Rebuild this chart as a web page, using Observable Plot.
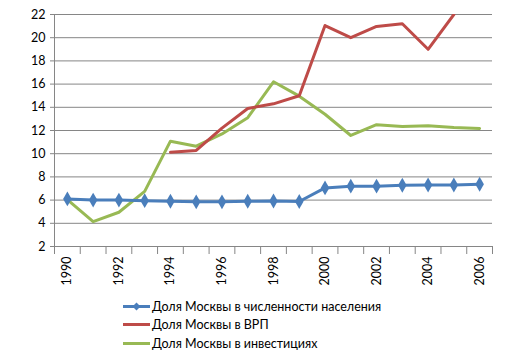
<!DOCTYPE html>
<html>
<head>
<meta charset="utf-8">
<script src="https://cdn.jsdelivr.net/npm/d3@7"></script>
<script src="https://cdn.jsdelivr.net/npm/@observablehq/plot@0.6"></script>
<style>
  body { margin: 0; background: #fff; font-family: Lato, "Open Sans", sans-serif; }
  #legend { margin-left: 123px; margin-top: 2px; font-size: 12.5px; color: #000; }
  .row { display: flex; align-items: center; height: 18.5px; }
  .row svg { margin-right: 1px; }
</style>
</head>
<body>
<div id="chart"></div>
<div id="legend"></div>
<script>
const years = [1990,1991,1992,1993,1994,1995,1996,1997,1998,1999,2000,2001,2002,2003,2004,2005,2006];
const population = [6.1,6.0,6.0,5.95,5.9,5.85,5.85,5.9,5.92,5.88,7.05,7.2,7.2,7.28,7.3,7.3,7.37];
const grp = [null,null,null,null,10.13,10.28,12.2,13.9,14.3,15.0,21.05,20.0,20.97,21.2,19.0,22.0,null];
const investment = [6.05,4.15,4.95,6.75,11.08,10.65,11.7,13.1,16.2,14.96,13.4,11.57,12.5,12.34,12.4,12.26,12.17];
const yTicks = [2,4,6,8,10,12,14,16,18,20,22];
const seriesNames = ["Доля Москвы в численности населения","Доля Москвы в ВРП","Доля Москвы в инвестициях"];
const colors = ["#4A7EBB","#BE4B48","#98B954"];

const popData = years.map((y,i)=>({year:y, v:population[i]}));
const grpData = years.map((y,i)=>({year:y, v:grp[i]}));
const invData = years.map((y,i)=>({year:y, v:investment[i]}));
const boundaries = years.map(y=>y-0.5).concat([years[years.length-1]+0.5]);
const labelYears = years.filter(y=>y%2===0);

const chart = Plot.plot({
  width: 513,
  height: 295,
  marginLeft: 54,
  marginRight: 21,
  marginTop: 14,
  marginBottom: 49,
  style: {fontFamily: "Lato, 'Open Sans', sans-serif", fontSize: "12.5px", color: "#000"},
  x: {domain: [years[0]-0.5, years[years.length-1]+0.5]},
  y: {domain: [2,22]},
  marks: [
    Plot.gridY(yTicks, {stroke: "#868686", strokeOpacity: 1}),
    Plot.ruleX([years[0]-0.5], {stroke: "#868686"}),
    Plot.axisY({ticks: yTicks, tickSize: 4, tickPadding: 5, stroke: "#868686", label: null}),
    Plot.axisX({ticks: boundaries, tickSize: 8, tickFormat: () => "", stroke: "#868686", label: null}),
    Plot.axisX({ticks: labelYears, tickSize: 0, tickPadding: 10, tickRotate: -90, tickFormat: d => String(d), label: null}),
    Plot.line(invData, {x: "year", y: "v", stroke: colors[2], strokeWidth: 3, clip: true}),
    Plot.line(grpData, {x: "year", y: "v", stroke: colors[1], strokeWidth: 3, clip: true}),
    Plot.line(popData, {x: "year", y: "v", stroke: colors[0], strokeWidth: 3}),
    Plot.dot(popData, {x: "year", y: "v", symbol: "diamond", r: 4.5, fill: colors[0], stroke: "none"})
  ]
});
document.getElementById("chart").appendChild(chart);

const legend = document.getElementById("legend");
seriesNames.forEach((name,i)=>{
  const row = document.createElement("div");
  row.className = "row";
  const marker = i===0 ? `<path d="M13.5,1.5 L17.5,5.5 L13.5,9.5 L9.5,5.5 Z" fill="${colors[i]}"/>` : "";
  row.innerHTML = `<svg width="28" height="11"><line x1="0" x2="27" y1="5.5" y2="5.5" stroke="${colors[i]}" stroke-width="3"/>${marker}</svg><span>${name}</span>`;
  legend.appendChild(row);
});
</script>
</body>
</html>
